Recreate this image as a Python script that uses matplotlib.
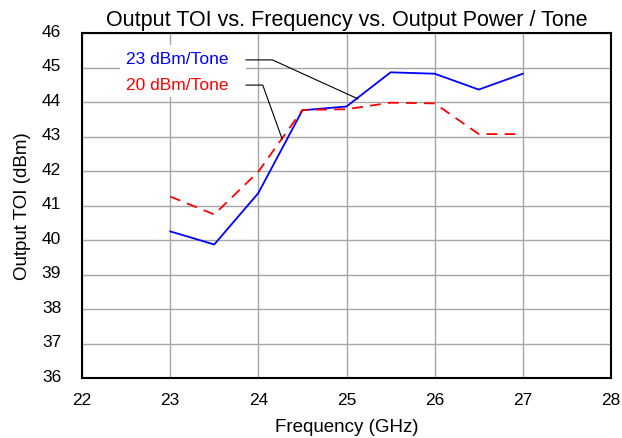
import matplotlib.pyplot as plt
import matplotlib.transforms as mtransforms
from matplotlib.patches import Rectangle

plt.rcParams['font.family'] = ['Liberation Sans', 'DejaVu Sans']

# frequency points (GHz)
freq = [23.0, 23.5, 24.0, 24.5, 25.0, 25.5, 26.0, 26.5, 27.0]

# output TOI (dBm) at two output power levels
toi_23 = [40.25, 39.87, 41.36, 43.76, 43.87, 44.86, 44.82, 44.36, 44.82]
toi_20 = [41.26, 40.74, 41.98, 43.77, 43.79, 43.98, 43.96, 43.07, 43.07]

xticks = [22, 23, 24, 25, 26, 27, 28]
yticks = list(range(36, 47))

fig = plt.figure(figsize=(6.22, 4.39), dpi=100)
ax = fig.add_axes([82/622, 1 - 379/439, (611-82)/622, (379-34)/439])

ax.plot(freq, toi_23, color='#0000ff', lw=1.3, zorder=3)
ax.plot(freq, toi_20, color='#ff0000', lw=1.3, ls=(0, (6, 4)), zorder=3)

ax.set_xlim(22, 28)
ax.set_ylim(36, 46)
ax.set_xticks(xticks)
ax.set_yticks(yticks)
ax.grid(True, color='#a6a6a6', lw=1.0)
ax.set_axisbelow(True)
ax.tick_params(axis='x', length=0, labelsize=12.5, pad=10)
ax.tick_params(axis='y', length=0, labelsize=12.5, pad=15)
for s in ax.spines.values():
    s.set_linewidth(1.5)

# y tick labels sit a little above their grid lines
for lab in ax.get_yticklabels():
    lab.set_transform(lab.get_transform() +
                      mtransforms.ScaledTranslation(0, 3/100, fig.dpi_scale_trans))

ax.set_title('Output TOI vs. Frequency vs. Output Power / Tone', fontsize=15.5, pad=6)
ax.set_xlabel('Frequency (GHz)', fontsize=13.5, labelpad=8)
ax.set_ylabel('Output TOI (dBm)', fontsize=13.5, labelpad=8)

# white label box hiding the grid
ax.add_patch(Rectangle((22.43, 44.15), 1.43, 1.5, facecolor='white',
                       edgecolor='none', zorder=2))
ax.text(22.5, 45.25, '23 dBm/Tone', color='#0000ff', fontsize=12.5, va='center', zorder=4)
ax.text(22.5, 44.5, '20 dBm/Tone', color='#ff0000', fontsize=12.5, va='center', zorder=4)

# leader lines
ax.plot([23.86, 24.16, 25.13], [45.22, 45.22, 44.09], color='black', lw=0.8, zorder=4)
ax.plot([23.86, 24.05, 24.27], [44.49, 44.49, 42.93], color='black', lw=0.8, zorder=4)

fig.savefig('out.png', dpi=100)
